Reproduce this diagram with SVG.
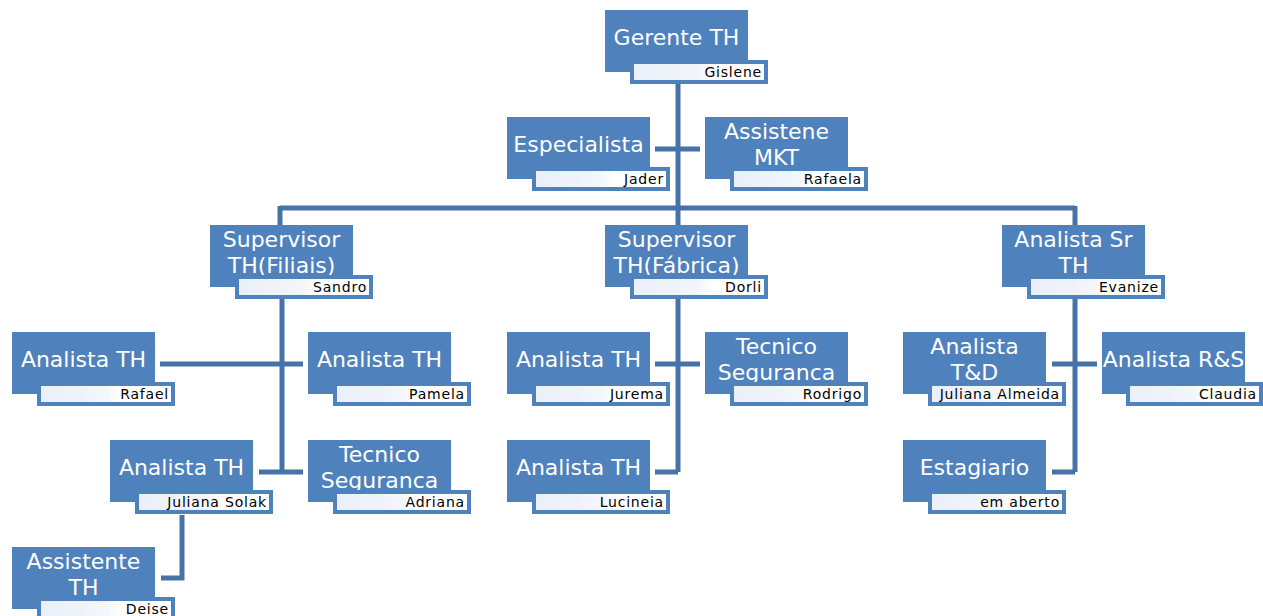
<svg xmlns="http://www.w3.org/2000/svg" width="1263" height="616" viewBox="0 0 1263 616">
<style>
.box{fill:#4F81BD}
.lbl{fill:url(#lg);stroke:#4F81BD;stroke-width:4}
.t{fill:#fff;font-family:"DejaVu Sans",sans-serif;font-size:22px;text-anchor:middle}
.n{fill:#000;font-family:"DejaVu Sans",sans-serif;font-size:14px;letter-spacing:0.8px;text-anchor:end}
.c{stroke:#4672A8;stroke-width:5;fill:none}
</style>
<defs>
<linearGradient id="lg" x1="0" y1="0" x2="1" y2="0">
<stop offset="0" stop-color="#EAEFF8"/>
<stop offset="0.5" stop-color="#F3F6FB"/>
<stop offset="0.6" stop-color="#FFFFFF"/>
<stop offset="1" stop-color="#FFFFFF"/>
</linearGradient>
</defs>
<rect width="1263" height="616" fill="#fff"/>
<g id="connectors">
<path class="c" d="M678 83V208M280 208H1075M280 206V226M1075 206V226M678 208V226"/>
<path class="c" d="M655 149H700"/>
<path class="c" d="M282 298V472M160 364H303M259 472H303"/>
<path class="c" d="M182 515V578H161"/>
<path class="c" d="M678 298V472M655 364H700M655 472H678"/>
<path class="c" d="M1075 298V472M1052 364H1097M1052 472H1075"/>
</g>
<g id="gerente"><rect class="box" x="605" y="10" width="143" height="62"/><text class="t" x="676.5" y="45">Gerente TH</text><rect class="lbl" x="632" y="62" width="134" height="20"/><text class="n" x="762" y="77">Gislene</text></g>
<g id="especialista"><rect class="box" x="507" y="117" width="143" height="62"/><text class="t" x="578.5" y="152">Especialista</text><rect class="lbl" x="534" y="169" width="134" height="20"/><text class="n" x="664" y="184">Jader</text></g>
<g id="assistene-mkt"><rect class="box" x="705" y="117" width="143" height="62"/><text class="t" x="776.5" y="139">Assistene</text><text class="t" x="776.5" y="165">MKT</text><rect class="lbl" x="732" y="169" width="134" height="20"/><text class="n" x="862" y="184">Rafaela</text></g>
<g id="sup-filiais"><rect class="box" x="210" y="225" width="143" height="62"/><text class="t" x="281.5" y="247">Supervisor</text><text class="t" x="281.5" y="273">TH(Filiais)</text><rect class="lbl" x="237" y="277" width="134" height="20"/><text class="n" x="367" y="292">Sandro</text></g>
<g id="sup-fabrica"><rect class="box" x="605" y="225" width="143" height="62"/><text class="t" x="676.5" y="247">Supervisor</text><text class="t" x="676.5" y="273">TH(Fábrica)</text><rect class="lbl" x="632" y="277" width="134" height="20"/><text class="n" x="762" y="292">Dorli</text></g>
<g id="analista-sr"><rect class="box" x="1002" y="225" width="143" height="62"/><text class="t" x="1073.5" y="247">Analista Sr</text><text class="t" x="1073.5" y="273">TH</text><rect class="lbl" x="1029" y="277" width="134" height="20"/><text class="n" x="1159" y="292">Evanize</text></g>
<g id="analista-rafael"><rect class="box" x="12" y="332" width="143" height="62"/><text class="t" x="83.5" y="367">Analista TH</text><rect class="lbl" x="39" y="384" width="134" height="20"/><text class="n" x="169" y="399">Rafael</text></g>
<g id="analista-pamela"><rect class="box" x="308" y="332" width="143" height="62"/><text class="t" x="379.5" y="367">Analista TH</text><rect class="lbl" x="335" y="384" width="134" height="20"/><text class="n" x="465" y="399">Pamela</text></g>
<g id="analista-juliana-solak"><rect class="box" x="110" y="440" width="143" height="62"/><text class="t" x="181.5" y="475">Analista TH</text><rect class="lbl" x="137" y="492" width="134" height="20"/><text class="n" x="267" y="507">Juliana Solak</text></g>
<g id="tecnico-adriana"><rect class="box" x="308" y="440" width="143" height="62"/><text class="t" x="379.5" y="462">Tecnico</text><text class="t" x="379.5" y="488">Seguranca</text><rect class="lbl" x="335" y="492" width="134" height="20"/><text class="n" x="465" y="507">Adriana</text></g>
<g id="assistente-deise"><rect class="box" x="12" y="547" width="143" height="62"/><text class="t" x="83.5" y="569">Assistente</text><text class="t" x="83.5" y="595">TH</text><rect class="lbl" x="39" y="599" width="134" height="20"/><text class="n" x="169" y="614">Deise</text></g>
<g id="analista-jurema"><rect class="box" x="507" y="332" width="143" height="62"/><text class="t" x="578.5" y="367">Analista TH</text><rect class="lbl" x="534" y="384" width="134" height="20"/><text class="n" x="664" y="399">Jurema</text></g>
<g id="tecnico-rodrigo"><rect class="box" x="705" y="332" width="143" height="62"/><text class="t" x="776.5" y="354">Tecnico</text><text class="t" x="776.5" y="380">Seguranca</text><rect class="lbl" x="732" y="384" width="134" height="20"/><text class="n" x="862" y="399">Rodrigo</text></g>
<g id="analista-lucineia"><rect class="box" x="507" y="440" width="143" height="62"/><text class="t" x="578.5" y="475">Analista TH</text><rect class="lbl" x="534" y="492" width="134" height="20"/><text class="n" x="664" y="507">Lucineia</text></g>
<g id="analista-td"><rect class="box" x="903" y="332" width="143" height="62"/><text class="t" x="974.5" y="354">Analista</text><text class="t" x="974.5" y="380">T&amp;D</text><rect class="lbl" x="930" y="384" width="134" height="20"/><text class="n" x="1060" y="399" letter-spacing="0">Juliana Almeida</text></g>
<g id="analista-rs"><rect class="box" x="1102" y="332" width="143" height="62"/><text class="t" x="1173.5" y="367">Analista R&amp;S</text><rect class="lbl" x="1128" y="384" width="133" height="20"/><text class="n" x="1257" y="399">Claudia</text></g>
<g id="estagiario"><rect class="box" x="903" y="440" width="143" height="62"/><text class="t" x="974.5" y="475">Estagiario</text><rect class="lbl" x="930" y="492" width="134" height="20"/><text class="n" x="1060" y="507">em aberto</text></g>
</svg>
